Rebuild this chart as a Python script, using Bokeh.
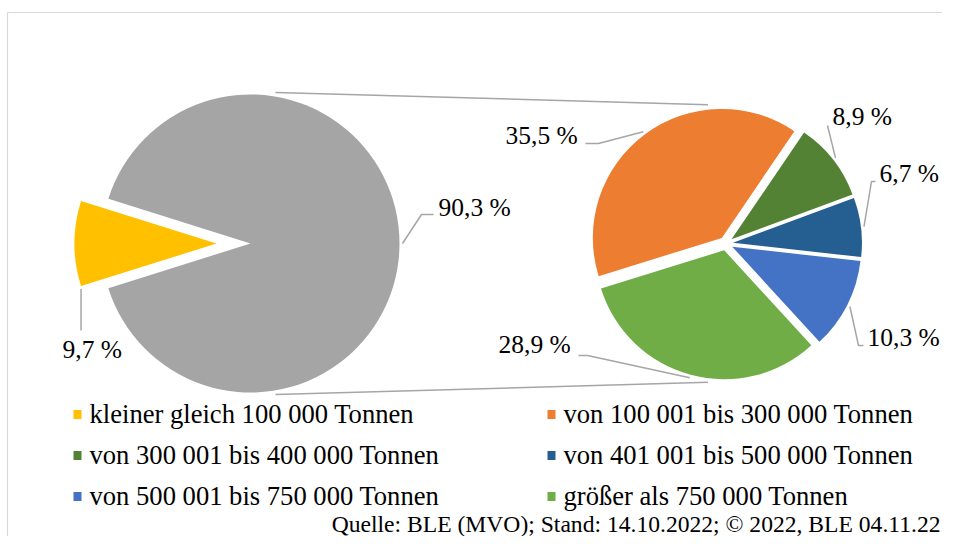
import math
from bokeh.plotting import figure
from bokeh.models import Range1d
from bokeh.embed import file_html
from bokeh.resources import INLINE
from bokeh.core.properties import value

# ---------------- data ----------------
categories = [
    "kleiner gleich 100 000 Tonnen",
    "von 100 001 bis 300 000 Tonnen",
    "von 300 001 bis 400 000 Tonnen",
    "von 401 001 bis 500 000 Tonnen",
    "von 500 001 bis 750 000 Tonnen",
    "größer als 750 000 Tonnen",
]
shares = [9.7, 35.5, 8.9, 6.7, 10.3, 28.9]
colors = ["#FFC000", "#ED7D31", "#548235", "#255E91", "#4472C4", "#70AD47"]
other_color = "#A5A5A5"
source_note = "Quelle: BLE (MVO); Stand: 14.10.2022; © 2022, BLE 04.11.22"

# ---------------- layout (picture pixel coords, y down) ----------------
W, H = 942, 536
FONT = value("Liberation Serif")
LEADER = "#A6A6A6"
LAB_FS = 25.5
LEG_FS = 26.6
SRC_FS = 23.6


def Y(py):
    return H - py


def mid_y(baseline, fs):
    # vertical middle of the text from its alphabetic baseline
    return Y(baseline - 0.32 * fs)


def fmt(v):
    return f"{v:.1f}".replace(".", ",") + " %"


p = figure(width=W, height=H, output_backend="svg", toolbar_location=None,
           x_range=Range1d(0, W), y_range=Range1d(0, H),
           x_axis_location=None, y_axis_location=None, min_border=0)
p.grid.visible = False
p.outline_line_color = None
p.background_fill_color = "white"
p.border_fill_color = "white"

# frame
p.line([7, W], [Y(12), Y(12)], line_color="#D9D9D9", line_width=1.2)
p.line([7, 7], [Y(12), Y(H)], line_color="#D9D9D9", line_width=1.2)

# ---------- main pie ----------
small = shares[0]
other = sum(shares[1:])
C1 = (250, 243)
R1 = 149
R1y = 142
explode1 = 34
half = small / 100 * 180.0
rad = math.radians

p.wedge(x=[C1[0]], y=[Y(C1[1])], radius=R1,
        start_angle=[rad(180 + half)], end_angle=[rad(180 - half + 360)],
        direction="anticlock", fill_color=other_color, line_color=None)
cy_x = C1[0] - explode1
p.wedge(x=[cy_x], y=[Y(C1[1])], radius=R1y,
        start_angle=[rad(180 - half)], end_angle=[rad(180 + half)],
        direction="anticlock", fill_color=colors[0], line_color=None)

# ---------- secondary pie ----------
C2 = (725.5, 243)
R2 = 129
explode2 = 7
start2 = 197.3
cur = start2
mids, centers = [], []
for v, c in zip(shares[1:], colors[1:]):
    span = v / other * 360.0
    a0, a1 = cur - span, cur
    mid = (a0 + a1) / 2
    cx = C2[0] + explode2 * math.cos(rad(mid))
    cy = Y(C2[1]) + explode2 * math.sin(rad(mid))
    p.wedge(x=[cx], y=[cy], radius=R2, start_angle=[rad(a0)], end_angle=[rad(a1)],
            direction="anticlock", fill_color=c, line_color=None)
    mids.append(mid)
    centers.append((cx, cy))
    cur = a0

# ---------- connector lines between the pies ----------
for s in (1, -1):
    a_l = rad(80.6 * s)
    a_r = rad(180 - 82.6 * s)
    x0 = C1[0] + 153 * math.cos(a_l)
    y0 = Y(C1[1]) + 153 * math.sin(a_l)
    x1 = C2[0] + 140 * math.cos(a_r)
    y1 = Y(C2[1]) + 140 * math.sin(a_r)
    p.line([x0, x1], [y0, y1], line_color=LEADER, line_width=1.5)

# ---------- data labels ----------
lab_x, lab_y, lab_t = [], [], []

sx = C1[0] + (R1 + 3)
sy = Y(C1[1])
p.line([sx, 421, 433], [sy, Y(214), Y(214)], line_color=LEADER, line_width=1.5)
lab_x.append(438); lab_y.append(mid_y(215, LAB_FS)); lab_t.append(fmt(other))

corner_x = cy_x + R1y * math.cos(rad(180 + half))
corner_y = Y(C1[1]) + R1y * math.sin(rad(180 + half))
p.line([corner_x, corner_x], [corner_y - 3, Y(330)], line_color=LEADER, line_width=1.5)
lab_x.append(62); lab_y.append(mid_y(357, LAB_FS)); lab_t.append(fmt(small))

sec_layout = [
    (505, 143.3, [(598, 143), (585, 143)]),
    (832, 124.3, [(827, 125)]),
    (879, 180.7, [(871, 181), (875, 181)]),
    (867, 345.0, [(858, 345), (863, 345)]),
    (498, 351.7, [(587, 355), (578, 355)]),
]
for v, mid, (cx, cy), (tx, ty, pts) in zip(shares[1:], mids, centers, sec_layout):
    sx = cx + (R2 + 3) * math.cos(rad(mid))
    sy = cy + (R2 + 3) * math.sin(rad(mid))
    xs = [sx] + [q[0] for q in pts]
    ys = [sy] + [Y(q[1]) for q in pts]
    p.line(xs, ys, line_color=LEADER, line_width=1.5)
    lab_x.append(tx); lab_y.append(mid_y(ty, LAB_FS)); lab_t.append(fmt(v))

p.text(x=lab_x, y=lab_y, text=lab_t, text_font=FONT, text_font_size=f"{LAB_FS}px",
       text_align="left", text_baseline="middle", text_color="#000000")

# ---------- legend ----------
col_sq_x = [77, 551]
col_tx_x = [89, 563]
row_base = [422, 463, 504]
sq_x, sq_y, sq_c, lt_x, lt_y = [], [], [], [], []
for i, (cat, c) in enumerate(zip(categories, colors)):
    r, col = divmod(i, 2)
    sq_x.append(col_sq_x[col]); sq_y.append(Y(row_base[r] - 8)); sq_c.append(c)
    lt_x.append(col_tx_x[col]); lt_y.append(mid_y(row_base[r], LEG_FS))
p.rect(x=sq_x, y=sq_y, width=8, height=9, fill_color=sq_c, line_color=None)
p.text(x=lt_x, y=lt_y, text=categories, text_font=FONT, text_font_size=f"{LEG_FS}px",
       text_align="left", text_baseline="middle", text_color="#000000")

# source note
p.text(x=[940], y=[mid_y(531, SRC_FS)], text=[source_note], text_font=FONT,
       text_font_size=f"{SRC_FS}px",
       text_align="right", text_baseline="middle", text_color="#000000")

open("out.html", "w").write(file_html(p, INLINE))
